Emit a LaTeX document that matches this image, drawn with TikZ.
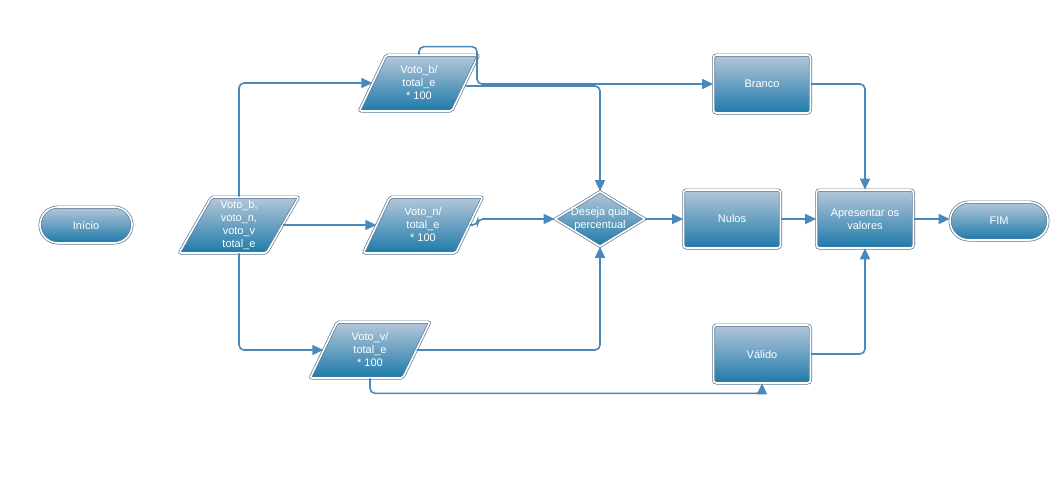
\documentclass[tikz,border=0pt]{standalone}
\usepackage{fontspec}
\setmainfont{Liberation Sans}
\usetikzlibrary{shapes.geometric,arrows.meta}
\definecolor{linec}{RGB}{72,136,186}
\definecolor{edgec}{RGB}{90,122,148}
\definecolor{topc}{RGB}{182,199,217}
\definecolor{botc}{RGB}{28,122,170}
\begin{document}
\begin{tikzpicture}[x=1pt,y=-1pt,
  every node/.style={font=\fontsize{11}{13}\selectfont, text=white, align=center},
  shp/.style={draw=edgec, line width=0.7pt, double=white, double distance=1.6pt,
    top color=topc, bottom color=botc},
  proc/.style={shp, rectangle, rounded corners=3pt, minimum width=97pt, minimum height=58pt},
  term/.style={shp, rectangle, rounded corners=18pt, minimum width=92pt, minimum height=36pt},
  io/.style={shp, trapezium, trapezium left angle=66, trapezium right angle=114,
    trapezium stretches=true, rounded corners=2pt,
    minimum width=120pt, minimum height=56pt, inner sep=0pt},
  dec/.style={shp, diamond, minimum width=90pt, minimum height=55pt, inner sep=0pt},
  conn/.style={draw=linec, line width=1.6pt, rounded corners=5pt,
    -{Triangle[length=11pt,width=10pt]}}
]
\path[use as bounding box] (0,0) rectangle (1052,485);

% nodes
\node[term] (ini) at (86,225) {Início};
\node[io] (inp) at (239,225) {Voto\_b,\\voto\_n,\\voto\_v\\total\_e};
\node[io] (vb) at (419,83) {Voto\_b/\\total\_e\\* 100};
\node[io] (vn) at (423,225) {Voto\_n/\\total\_e\\* 100};
\node[io] (vv) at (370,350) {Voto\_v/\\total\_e\\* 100};
\node[dec] (dq) at (600,219) {};
\node (dqt) at (dq) {Deseja qual\\percentual};
\node[proc] (nu) at (732,219) {Nulos};
\node[proc] (br) at (762,84) {Branco};
\node[proc] (va) at (762,354) {Válido};
\node[proc] (ap) at (865,219) {Apresentar os\\valores};
\node[term, minimum width=98pt, minimum height=38pt, rounded corners=19pt] (fim) at (999,221) {FIM};
\coordinate (bj) at (477,84);

% connectors
\draw[conn] (inp.north) |- (vb);
\draw[conn] (inp.east) -- (vn);
\draw[conn] (inp.south) |- (vv);
\draw[conn] (vb.north -| vb.center) -- ++(0,-8) -| (bj) -- (br);
\draw[conn] ([yshift=-3pt]vb.east) -| (dq.north);
\draw[conn] (vn.east) -- ++(8,0) |- (dq.west);
\draw[conn] (vv.east) -| (dq.south);
\draw[conn] (vv.south -| vv.center) -- ++(0,15) -| (va.south);
\draw[conn] (dq) -- (nu);
\draw[conn] (nu) -- (ap);
\draw[conn] (br.east) -| (ap.north);
\draw[conn] (va.east) -| (ap.south);
\draw[conn] (ap.east) -- (ap.east -| fim.west);
\end{tikzpicture}
\end{document}
